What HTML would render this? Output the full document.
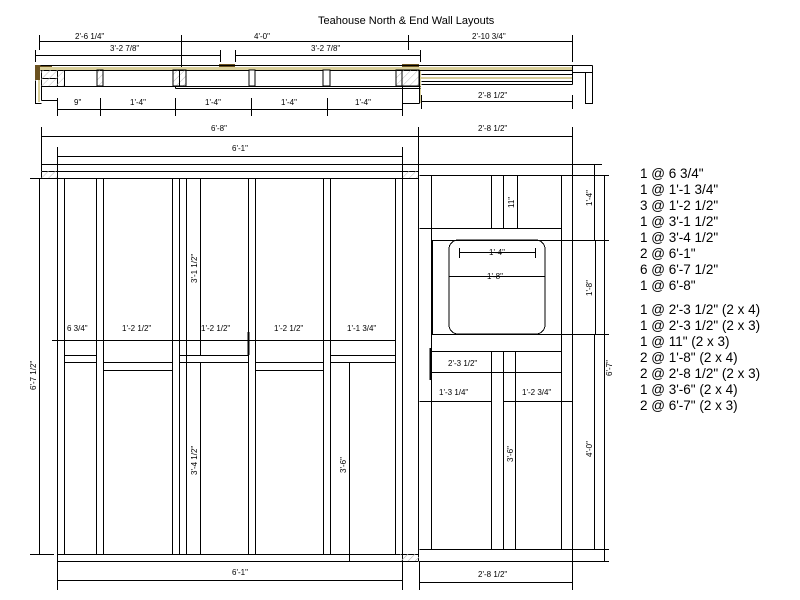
<!DOCTYPE html>
<html><head><meta charset="utf-8"><style>
html,body{margin:0;padding:0;background:#fff;width:800px;height:600px;overflow:hidden}
svg{display:block}
text{font-family:"Liberation Sans",sans-serif;fill:#000}
.d{font-size:8px}
.l{font-size:13.5px}
</style></head><body>
<svg width="800" height="600" viewBox="0 0 800 600" xmlns="http://www.w3.org/2000/svg" shape-rendering="crispEdges">
<defs>
<pattern id="h" width="5" height="5" patternUnits="userSpaceOnUse" patternTransform="rotate(45)">
<line x1="0" y1="0" x2="0" y2="5" stroke="#bbb" stroke-width="1"/></pattern>
</defs>
<text x="318" y="24" style="font-size:11px">Teahouse North &amp; End  Wall Layouts</text>
<g stroke="#000" stroke-width="1" fill="none">
<path d="M39.5 35V50M181.5 35V68M408.5 35V50M572.5 35V62M39.5 41.5H572.5"/>
<path d="M35.5 50V62M220.5 50V62M235.5 50V62M420.5 50V62M35.5 55.5H220.5M235.5 55.5H420.5"/>
<rect x="35" y="65" width="5" height="15" fill="#6b5220" stroke="none"/>
<rect x="40" y="65" width="12" height="3" fill="#6b5220" stroke="none"/>
<rect x="219" y="64" width="16" height="3" fill="#6b5220" stroke="none"/>
<rect x="402" y="64" width="17" height="3" fill="#6b5220" stroke="none"/>
<rect x="40" y="67" width="532" height="3" fill="#d9cf9a" stroke="none"/>
<rect x="38" y="80" width="2" height="22" fill="#d9cf9a" stroke="none"/>
<rect x="421" y="77" width="151" height="2" fill="#d9cf9a" stroke="none"/>
<rect x="419" y="70" width="2" height="33" fill="#d9cf9a" stroke="none"/>
<path d="M40.5 65.5H592.5M40.5 70.5H572.5M572.5 65.5V72.5H592.5V65.5M585.5 72.5V103.5H592.5V72.5"/>
<path d="M35.5 80.5V103.5H41.5M41.5 70.5V100.5M41.5 86.5H57.5M41.5 78.5H57.5M57.5 70.5V86.5M41.5 100.5H57.5V107.5"/>
<rect x="41" y="70" width="16" height="16" fill="url(#h)" stroke="none"/>
<rect x="57" y="70" width="7" height="16" fill="url(#h)" stroke="none"/>
<path d="M57.5 86.5H420.5M64.5 70.5V86.5"/>
<rect x="97" y="70" width="6" height="16" fill="url(#h)" stroke="#000"/>
<rect x="173" y="70" width="13" height="16" fill="url(#h)" stroke="#000"/>
<path d="M179.5 70.5V86.5M175.5 88.5H420.5M175.5 86.5V88.5"/>
<rect x="249" y="70" width="6" height="16" fill="#fff" stroke="#000"/>
<rect x="323" y="70" width="7" height="16" fill="#fff" stroke="#000"/>
<rect x="396" y="70" width="6" height="16" fill="url(#h)" stroke="#000"/>
<rect x="402" y="70" width="17" height="16" fill="url(#h)" stroke="#000"/>
<path d="M402.5 86.5V103.5H419.5M419.5 70.5V103.5M421.5 81.5H572.5M421.5 84.5H572.5M421.5 74.5H572.5M572.5 70.5V84.5"/>
<path d="M57.5 98V116M100.5 98V116M175.5 98V116M251.5 98V116M327.5 98V116M402.5 98V116M57.5 109.5H402.5"/>
<path d="M421.5 95V109M572.5 95V109M421.5 101.5H572.5"/>
<path d="M41.5 127V170M418.5 127V170M572.5 127V170M41.5 136.5H572.5"/>
<path d="M57.5 147V178M402.5 147V178M57.5 156.5H402.5"/>
<path d="M41.5 164.5H602M41.5 171.5H418.5M30 178.5H418.5M41.5 164.5V178.5"/>
<rect x="41" y="171" width="16" height="7" fill="url(#h)" stroke="none"/>
<rect x="402" y="171" width="16" height="7" fill="url(#h)" stroke="none"/>
<path d="M57.5 164V590M64.5 178V554M96.5 178V554M103.5 178V554M172.5 178V554M179.5 178V554M186.5 178V554M248.5 178V554M255.5 178V554M323.5 178V554M330.5 178V554M395.5 178V554M402.5 164V590M418.5 164V561"/>
<path d="M39.5 178V554M30 554.5H54M57.5 554.5H418.5M57.5 561.5H418.5M57.5 580.5H402.5"/>
<rect x="402" y="554" width="17" height="7" fill="url(#h)" stroke="none"/>
<path d="M64.5 355.5H96.5M64.5 362.5H96.5M103.5 362.5H172.5M103.5 370.5H172.5M179.5 355.5H248.5M179.5 362.5H248.5M255.5 362.5H323.5M255.5 370.5H323.5M330.5 355.5H395.5M330.5 362.5H395.5"/>
<path d="M52 340.5H395.5M200.5 178V355M200.5 362V554M349.5 362V561"/>
<path d="M248.5 332V355" stroke-width="2"/>
<path d="M419.5 175.5H609M419.5 228.5H561.5M431.5 240.5H609M431.5 334.5H609M431.5 351.5H561.5M419.5 549.5H609M419.5 561.5H609M572.5 164V590M419.5 561V590"/>
<path d="M431.5 175V549M432.5 240V334M491.5 175V228M503.5 175V228M491.5 351V549M503.5 351V549M561.5 175V549M517.5 175V228M515.5 351V549"/>
<path d="M594.5 164V240M595.5 240V334M594.5 334V549M604.5 175V561"/>
<rect x="449" y="240" width="96" height="94" rx="9" ry="9"/>
<path d="M459.5 252.5H535.5M459.5 248V258M535.5 248V258M449.5 276.5H545.5"/>
<path d="M431.5 372.5H561.5M419.5 401.5H491.5M503.5 401.5H572.5M419.5 582.5H572.5"/>
<path d="M430.5 348V380" stroke-width="2"/>
</g>
<rect x="400" y="554" width="19" height="7" fill="url(#h)"/>
<g class="d">
<text x="75" y="39">2'-6 1/4"</text><text x="254" y="39">4'-0"</text><text x="472" y="39">2'-10 3/4"</text>
<text x="110" y="51">3'-2 7/8"</text><text x="311" y="51">3'-2 7/8"</text>
<text x="74" y="105">9"</text><text x="130" y="105">1'-4"</text><text x="205" y="105">1'-4"</text><text x="281" y="105">1'-4"</text><text x="355" y="105">1'-4"</text>
<text x="478" y="98">2'-8 1/2"</text>
<text x="211" y="131">6'-8"</text><text x="478" y="131">2'-8 1/2"</text>
<text x="232" y="151">6'-1"</text>
<text x="67" y="331">6 3/4"</text><text x="122" y="331">1'-2 1/2"</text><text x="201" y="331">1'-2 1/2"</text><text x="274" y="331">1'-2 1/2"</text><text x="347" y="331">1'-1 3/4"</text>
<text x="232" y="575">6'-1"</text><text x="478" y="577">2'-8 1/2"</text>
<text x="489" y="255">1'-4"</text><text x="487" y="279">1'-8"</text>
<text x="448" y="366">2'-3 1/2"</text><text x="439" y="395">1'-3 1/4"</text><text x="522" y="395">1'-2 3/4"</text>
<text transform="translate(36,390) rotate(-90)">6'-7 1/2"</text>
<text transform="translate(197,283) rotate(-90)">3'-1 1/2"</text>
<text transform="translate(197,475) rotate(-90)">3'-4 1/2"</text>
<text transform="translate(346,473) rotate(-90)">3'-6"</text>
<text transform="translate(514,208) rotate(-90)">11"</text>
<text transform="translate(592,206) rotate(-90)">1'-4"</text>
<text transform="translate(592,296) rotate(-90)">1'-8"</text>
<text transform="translate(612,376) rotate(-90)">6'-7"</text>
<text transform="translate(513,462) rotate(-90)">3'-6"</text>
<text transform="translate(592,457) rotate(-90)">4'-0"</text>
</g>
<g class="l">
<text x="640" y="178">1 @ 6 3/4"</text>
<text x="640" y="194">1 @ 1'-1 3/4"</text>
<text x="640" y="210">3 @ 1'-2 1/2"</text>
<text x="640" y="226">1 @ 3'-1 1/2"</text>
<text x="640" y="242">1 @ 3'-4 1/2"</text>
<text x="640" y="258">2 @ 6'-1"</text>
<text x="640" y="274">6 @ 6'-7 1/2"</text>
<text x="640" y="290">1 @ 6'-8"</text>
<text x="640" y="314">1 @ 2'-3 1/2" (2 x 4)</text>
<text x="640" y="330">1 @ 2'-3 1/2" (2 x 3)</text>
<text x="640" y="346">1 @ 11" (2 x 3)</text>
<text x="640" y="362">2 @ 1'-8" (2 x 4)</text>
<text x="640" y="378">2 @ 2'-8 1/2" (2 x 3)</text>
<text x="640" y="394">1 @ 3'-6" (2 x 4)</text>
<text x="640" y="410">2 @ 6'-7" (2 x 3)</text>
</g>
</svg>
</body></html>
